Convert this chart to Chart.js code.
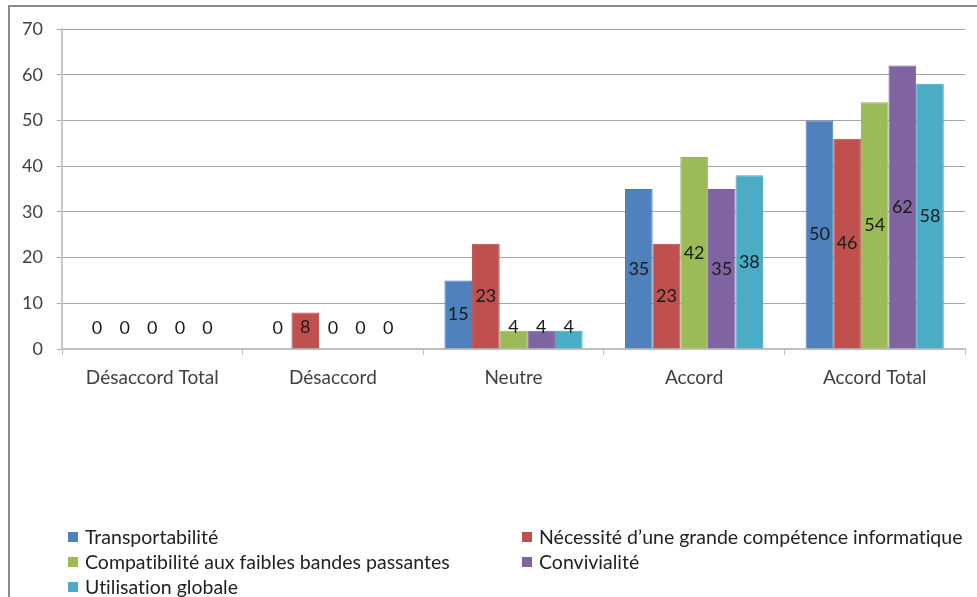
<!DOCTYPE html>
<html lang="fr">
<head>
<meta charset="utf-8">
<script src="https://cdn.jsdelivr.net/npm/chart.js@4/dist/chart.umd.min.js"></script>
<style>
  html, body { margin: 0; padding: 0; background: #fff; }
  #wrap { position: relative; width: 977px; height: 597px; overflow: hidden; }
  #cadre { position: absolute; left: 8px; top: 5px; width: 980px; height: 600px;
           border-left: 2px solid #8c8c8c; border-top: 2px solid #8c8c8c; }
  #graphique { position: absolute; left: 0; top: 0; }
  #legende { position: absolute; left: 0; top: 0; font-family: Lato, "Open Sans", sans-serif;
             font-size: 19.5px; color: #222; font-variant-ligatures: none; font-feature-settings: "liga" 0; }
  .item { position: absolute; white-space: nowrap; line-height: 20px; }
  .item i { position: absolute; left: 0; top: 5px; width: 10px; height: 10px; }
  .item span { position: absolute; left: 17px; top: 0; }
</style>
</head>
<body>
<div id="wrap">
  <div id="cadre"></div>
  <canvas id="graphique" width="977" height="597"></canvas>
  <div id="legende"></div>
</div>
<script>
// Catégories de réponse (axe X)
const categories = ['Désaccord Total', 'Désaccord', 'Neutre', 'Accord', 'Accord Total'];

// Valeurs par critère
const transportabilite = [0, 0, 15, 35, 50];
const competenceInfo   = [0, 8, 23, 23, 46];
const compatibilite    = [0, 0, 4, 42, 54];
const convivialite     = [0, 0, 4, 35, 62];
const utilisation      = [0, 0, 4, 38, 58];

const nomsSeries = [
  'Transportabilité',
  'Nécessité d\u2019une grande compétence informatique',
  'Compatibilité aux faibles bandes passantes',
  'Convivialité',
  'Utilisation globale'
];
const couleurs = ['#4F81BD', '#C0504D', '#9BBB59', '#8064A2', '#4BACC6'];
const bordures = ['#4a7ab3', '#b54b48', '#93b255', '#7a5f9a', '#47a3bc'];

// Graduations de l'axe Y
const yMin = 0, yMax = 70, yPas = 10;

const valeurs = [transportabilite, competenceInfo, compatibilite, convivialite, utilisation];
const police = 'Lato, "Open Sans", sans-serif';

// Étiquettes de valeur centrées dans les barres
const etiquettesValeurs = {
  id: 'etiquettesValeurs',
  afterDatasetsDraw(chart) {
    const ctx = chart.ctx;
    ctx.save();
    ctx.font = '18px ' + police;
    ctx.fillStyle = '#1a1a1a';
    ctx.textAlign = 'center';
    ctx.textBaseline = 'middle';
    chart.data.datasets.forEach((ds, i) => {
      const meta = chart.getDatasetMeta(i);
      meta.data.forEach((bar, j) => {
        let y = (bar.y + bar.base) / 2;
        if (y > bar.base - 21) y = bar.base - 21;
        ctx.fillText(String(ds.data[j]), bar.x, y);
      });
    });
    ctx.restore();
  }
};

const chart = new Chart(document.getElementById('graphique'), {
  type: 'bar',
  data: {
    labels: categories,
    datasets: valeurs.map((v, i) => ({
      label: nomsSeries[i],
      data: v,
      backgroundColor: couleurs[i],
      borderColor: bordures[i],
      borderWidth: 1,
      categoryPercentage: 0.765,
      barPercentage: 1
    }))
  },
  options: {
    responsive: false,
    animation: false,
    layout: { padding: { left: 0, right: 12, top: 29, bottom: 200 } },
    plugins: { legend: { display: false }, tooltip: { enabled: false } },
    scales: {
      x: {
        grid: { drawOnChartArea: false, offset: true, tickLength: 6, color: '#bfbfbf', lineWidth: 1 },
        border: { color: '#bfbfbf', width: 2 },
        ticks: { color: '#404040', padding: 11, font: { family: police, size: 19 } },
        afterFit(scale) { scale.height = 48; }
      },
      y: {
        min: yMin,
        max: yMax,
        ticks: { stepSize: yPas, color: '#404040', padding: 14, font: { family: police, size: 18 } },
        grid: { color: '#a6a6a6', lineWidth: 1, tickLength: 5 },
        border: { color: '#c8c8c8', width: 2 },
        afterFit(scale) { scale.width = 62; }
      }
    }
  },
  plugins: [etiquettesValeurs]
});

// Légende sur deux colonnes
const positions = [[68, 527], [522, 527], [68, 552], [522, 552], [68, 577]];
const legende = document.getElementById('legende');
chart.data.datasets.forEach((ds, i) => {
  const el = document.createElement('div');
  el.className = 'item';
  el.style.left = positions[i][0] + 'px';
  el.style.top = positions[i][1] + 'px';
  el.innerHTML = '<i style="background:' + ds.backgroundColor + '"></i><span></span>';
  el.querySelector('span').textContent = ds.label;
  legende.appendChild(el);
});
</script>
</body>
</html>
